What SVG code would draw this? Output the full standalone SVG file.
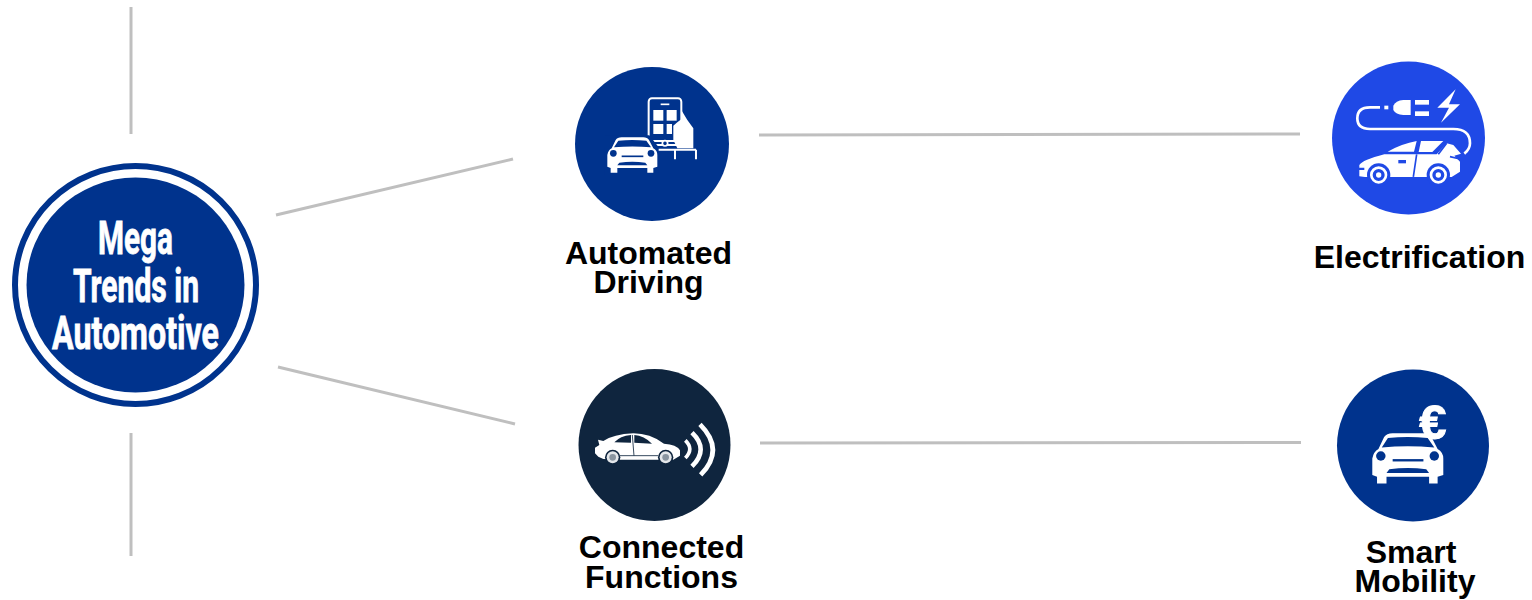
<svg xmlns="http://www.w3.org/2000/svg" width="1532" height="600" viewBox="0 0 1532 600">
<style>
.conn{stroke:#bfbfbf;stroke-width:3;fill:none}
.lbl{font-family:"Liberation Sans",Arial,sans-serif;font-weight:700;font-size:32px;fill:#000;text-anchor:middle}
.main{font-family:Roboto,"Liberation Sans",sans-serif;font-weight:700;font-size:46px;fill:#fff;stroke:#fff;stroke-width:.8}
.w{fill:#fff}
.ws{fill:none;stroke:#fff}
.navy{fill:#00338d}
</style>
<defs>
<g id="frontcar">
<path class="w" d="M0,78V53Q3,38 13,33L25,8Q30,0 43,0H108Q120,0 125,8L138,33Q150,40 150,53V88L138,92V106H120V92H30V106H10V92L0,88Z"/>
<path class="navy" d="M20,30L33,10Q75,6 117,10L131,30Q75,25 20,30Z"/>
<circle class="navy" cx="18" cy="48" r="10"/>
<circle class="navy" cx="131" cy="48" r="10"/>
<path d="M43,57H108" stroke="#00338d" stroke-width="5" fill="none"/>
<path class="navy" d="M30,84L36,76Q75,71 114,76L120,84Z"/>
</g>
</defs>
<rect width="1532" height="600" fill="#fff"/>
<g id="connectors">
<path class="conn" d="M131,7V134"/>
<path class="conn" d="M131,433V556"/>
<path class="conn" d="M276,215L513,159"/>
<path class="conn" d="M278,367L515,424"/>
<path class="conn" d="M759,135L1300,134"/>
<path class="conn" d="M760,443L1301,442.500"/>
</g>
<g id="node-mega-trends">
<ellipse cx="135.500" cy="285" rx="120.500" ry="119" fill="#fff" stroke="#00338d" stroke-width="6"/>
<ellipse class="navy" cx="135.500" cy="285" rx="109" ry="107.500"/>
<text class="main"><tspan x="98" y="254" textLength="75" lengthAdjust="spacingAndGlyphs">Mega</tspan><tspan x="73" y="302" textLength="126" lengthAdjust="spacingAndGlyphs">Trends in</tspan><tspan x="52" y="349" textLength="167" lengthAdjust="spacingAndGlyphs">Automotive</tspan></text>
</g>
<g id="node-automated-driving">
<circle cx="652" cy="144" r="77" class="navy"/>
<g transform="translate(570,60) scale(.3333)">
<rect class="ws" x="236" y="115" width="98" height="140" rx="10" stroke-width="6"/>
<path d="M272,133H298" stroke="#fff" stroke-width="5"/>
<rect class="w" x="250" y="150" width="30" height="32"/>
<rect class="w" x="290" y="150" width="30" height="32"/>
<rect class="w" x="250" y="192" width="30" height="30"/>
<rect class="w" x="290" y="192" width="16" height="30"/>
<path class="w" d="M334,150L352,180L370,205V265H322L310,240V197L322,187L334,178Z"/>
<path d="M240,243H322" stroke="#fff" stroke-width="6"/>
<circle cx="285" cy="250" r="8" fill="#00338d" stroke="#fff" stroke-width="5"/>
<path d="M262,269H378M315,269V298M378,269V298" fill="none" stroke="#fff" stroke-width="6"/>
<path d="M238,226L266,262V345H105V226Z" fill="#00338d"/>
<use href="#frontcar" x="112" y="232"/>
</g>
<text class="lbl"><tspan x="648.500" y="264">Automated</tspan><tspan x="648.500" y="293">Driving</tspan></text>
</g>
<g id="node-electrification">
<circle cx="1408.500" cy="138" r="76.500" fill="#1f49e6"/>
<g transform="translate(1325,55) scale(.3333)">
<path class="ws" stroke-width="8" d="M165,157H135Q97,157 97,190Q97,222 135,222H385Q435,222 435,265Q435,283 418,296"/>
<rect class="w" x="178" y="152" width="12" height="11"/>
<path class="w" d="M205,152Q212,137 235,135H257V180H235Q212,178 205,165Z"/>
<rect class="w" x="270" y="135" width="42" height="14"/>
<rect class="w" x="270" y="169" width="42" height="14"/>
<path class="w" d="M392,103L337,158H372L348,203L405,148H372Z"/>
<path class="w" d="M188,290Q230,266 275,258L267,290Z"/>
<path class="w" d="M288,258H355L322,291H281Z"/>
<path class="w" d="M103,330Q112,315 178,298H335L365,265L385,270L408,296L388,302L405,320V350L380,366H120L103,364V345H118V338H103Z"/>
<path d="M275,298L265,366M365,265L340,298M375,305L405,312" stroke="#1f49e6" stroke-width="5" fill="none"/>
<rect x="220" y="315" width="23" height="10" fill="#1f49e6"/>
<circle cx="161" cy="360" r="35" fill="#1f49e6"/>
<circle cx="340" cy="360" r="35" fill="#1f49e6"/>
<circle cx="161" cy="360" r="22" fill="#1f49e6" stroke="#fff" stroke-width="8"/>
<circle cx="340" cy="360" r="22" fill="#1f49e6" stroke="#fff" stroke-width="8"/>
<circle class="w" cx="161" cy="360" r="8"/>
<circle class="w" cx="340" cy="360" r="8"/>
</g>
<text class="lbl" x="1419.500" y="268">Electrification</text>
</g>
<g id="node-connected-functions">
<circle cx="654.500" cy="445" r="76" fill="#0f253e"/>
<g transform="translate(570,365) scale(.3333)">
<path class="w" d="M75,265V248L88,240L84,224L100,228Q130,208 190,205Q240,205 282,236Q320,238 330,256V272L310,284H150L100,282L85,275Z"/>
<path d="M133,232Q150,213 183,210V233ZM193,210Q222,212 246,236L193,233Z" fill="#0f253e"/>
<path d="M187,210L192,272M150,272H265" stroke="#0f253e" stroke-width="2.500" fill="none"/>
<circle cx="128" cy="277" r="23" fill="#0f253e"/>
<circle cx="287" cy="277" r="23" fill="#0f253e"/>
<circle cx="128" cy="277" r="18" fill="#e4e7ea"/>
<circle cx="287" cy="277" r="18" fill="#e4e7ea"/>
<circle cx="128" cy="277" r="10" fill="#8a95a0"/>
<circle cx="287" cy="277" r="10" fill="#8a95a0"/>
<path class="ws" stroke-width="11" d="M346,226Q373,252 346,279"/>
<path class="ws" stroke-width="14" d="M366,203Q418,253 366,304"/>
<path class="ws" stroke-width="14" d="M390,178Q466,254 392,330"/>
</g>
<text class="lbl"><tspan x="661.500" y="558">Connected</tspan><tspan x="661.500" y="588">Functions</tspan></text>
</g>
<g id="node-smart-mobility">
<circle cx="1413" cy="445.500" r="76" class="navy"/>
<use href="#frontcar" transform="translate(1372.300,433.300) scale(.4733)"/>
<text x="1433" y="439" font-family="Liberation Sans, sans-serif" font-weight="700" font-size="49" fill="#fff" stroke="#fff" stroke-width="1" text-anchor="middle">€</text>
<text class="lbl"><tspan x="1411" y="563">Smart</tspan><tspan x="1415" y="592">Mobility</tspan></text>
</g>
</svg>
